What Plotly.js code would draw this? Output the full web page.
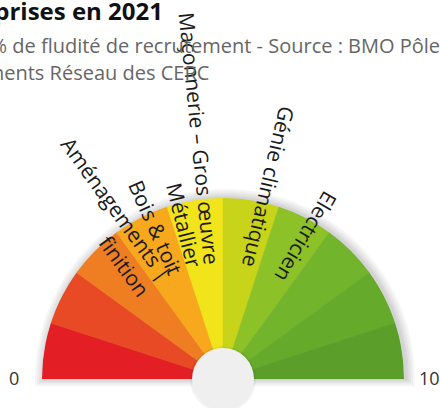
<!DOCTYPE html>
<html><head><meta charset="utf-8">
<script src="https://cdn.plot.ly/plotly-3.0.1.min.js"></script>
<style>html,body{margin:0;padding:0;background:#fff;overflow:hidden}#chart{width:440px;height:408px}</style>
</head><body><div id="chart"></div>
<script>
// ---------- DATA ----------
const scaleMin = 0;
const scaleMax = 10;
const bandStarts = [0, 1, 2, 3, 4, 5, 6, 7, 8, 9];
const bandEnds   = [1, 2, 3, 4, 5, 6, 7, 8, 9, 10];
const bandColors = ["#e31e24", "#e84a25", "#ef7e22", "#f7a81d", "#f1e41b",
                    "#c8d41a", "#8dc128", "#72b42b", "#66aa2b", "#5b9e2a"];
const tradeLabels = ["Aménagements |<br>finition", "Bois & toit", "Métallier",
                     "Maçonnerie – Gros œuvre", "Génie climatique", "Electricien"];
const tradeValues = [3.0, 3.67, 4.22, 4.68, 5.74, 6.69];
const endLabels = ["0", "10"];
const titleText = "Tensions de recrutement dans les entreprises en 2021";
const subtitleLine1 = "Indicateur en % de fludité de recrutement - Source : BMO Pôle emploi /";
const subtitleLine2 = "Traitements Réseau des CERC";

// ---------- GEOMETRY / STYLE ----------
const W = 440, H = 408;
const cx = 223, cy = 379, R = 181;
const fontFam = 'Open Sans';
const labelSize = 21;
const labelEndRadius = 113;

const cv = document.createElement('canvas');
const ctx = cv.getContext('2d');
function textW(t, size, weight) {
  ctx.font = (weight || 'normal') + ' ' + size + 'px "' + fontFam + '"';
  return ctx.measureText(t).width;
}
const toDeg = v => (v - scaleMin) / (scaleMax - scaleMin) * 180;
const px2x = p => p / W;
const px2y = p => 1 - p / H;

const gauge = {
  type: 'barpolar',
  theta: bandStarts.map((s, i) => toDeg((s + bandEnds[i]) / 2)),
  width: bandStarts.map((s, i) => toDeg(bandEnds[i]) - toDeg(s)),
  r: bandStarts.map(() => 1),
  marker: { color: bandColors, line: { color: bandColors, width: 0.6 } },
  hoverinfo: 'skip',
  showlegend: false
};

const annotations = [];
tradeLabels.forEach((lab, i) => {
  const lines = lab.split('<br>');
  const w = Math.max(...lines.map(l => textW(l, labelSize)));
  const aDeg = toDeg(tradeValues[i]);
  const a = aDeg * Math.PI / 180;
  const d = labelEndRadius + w / 2 + 2;
  const x = cx - d * Math.cos(a), y = cy - d * Math.sin(a);
  annotations.push({
    text: lab, x: px2x(x), y: px2y(y), xref: 'paper', yref: 'paper',
    showarrow: false, textangle: aDeg, xanchor: 'center', yanchor: 'middle',
    align: 'right', font: { family: fontFam, size: labelSize, color: '#1a1a1a' }
  });
});
annotations.push({ text: endLabels[0], x: px2x(21), y: px2y(378), xref: 'paper', yref: 'paper',
  showarrow: false, xanchor: 'right', yanchor: 'middle', font: { family: fontFam, size: 18, color: '#333' } });
annotations.push({ text: endLabels[1], x: px2x(417), y: px2y(378), xref: 'paper', yref: 'paper',
  showarrow: false, xanchor: 'left', yanchor: 'middle', font: { family: fontFam, size: 18, color: '#333' } });

// subtitle lines aligned so the visible parts land where the reference shows them
const subSize = 20;
const s1x = 10 - textW(subtitleLine1.split('% ')[0] + '% ', subSize);
const s2x = 48 - textW('Traitements ', subSize);
annotations.push({ text: subtitleLine1, x: px2x(s1x), y: px2y(45), xref: 'paper', yref: 'paper',
  showarrow: false, xanchor: 'left', yanchor: 'middle', font: { family: fontFam, size: subSize, color: '#666' } });
annotations.push({ text: subtitleLine2, x: px2x(s2x), y: px2y(72), xref: 'paper', yref: 'paper',
  showarrow: false, xanchor: 'left', yanchor: 'middle', font: { family: fontFam, size: subSize, color: '#666' } });

// soft drop shadow around the half disc (decoration)
function halfDiscPath(rad, dx, dy, drop) {
  const pts = [];
  for (let k = 0; k <= 60; k++) {
    const t = Math.PI * k / 60;
    pts.push([cx + dx - rad * Math.cos(t), cy + dy - rad * Math.sin(t)]);
  }
  pts.push([cx + dx + rad, cy + drop]);
  pts.push([cx + dx - rad, cy + drop]);
  return 'M' + pts.map(p => px2x(p[0]).toFixed(5) + ',' + px2y(p[1]).toFixed(5)).join('L') + 'Z';
}
const shapes = [];
[9, 7, 5, 3, 1.5].forEach(o => {
  shapes.push({ type: 'path', xref: 'paper', yref: 'paper', layer: 'below',
    path: halfDiscPath(R + o, 2, 0, o * 0.8), fillcolor: 'rgba(0,0,0,0.035)', line: { width: 0 } });
});
shapes.push({ type: 'circle', xref: 'paper', yref: 'paper', layer: 'above',
  x0: px2x(cx - 33), x1: px2x(cx + 33), y0: px2y(cy + 33), y1: px2y(cy - 33),
  fillcolor: 'rgba(0,0,0,0.05)', line: { width: 0 } });
shapes.push({ type: 'circle', xref: 'paper', yref: 'paper', layer: 'above',
  x0: px2x(cx - 31), x1: px2x(cx + 31), y0: px2y(cy + 31), y1: px2y(cy - 31),
  fillcolor: '#efefef', line: { width: 0 } });

const layout = {
  width: W, height: H,
  margin: { l: 0, r: 0, t: 0, b: 0 },
  paper_bgcolor: '#fff',
  title: { text: titleText, x: px2x(163), xref: 'container', xanchor: 'right',
           y: 1 - 12 / H, yref: 'container', yanchor: 'middle',
           font: { family: fontFam, size: 24, color: '#111', weight: 'bold' } },
  polar: {
    domain: { x: [px2x(cx - R), px2x(cx + R)], y: [(H - cy) / H, (H - cy + R) / H] },
    sector: [0, 180],
    bgcolor: 'rgba(0,0,0,0)',
    angularaxis: { rotation: 180, direction: 'clockwise', visible: false },
    radialaxis: { range: [0, 1], visible: false }
  },
  annotations: annotations,
  shapes: shapes,
  showlegend: false
};

Plotly.newPlot('chart', [gauge], layout, { displayModeBar: false, staticPlot: true });
</script></body></html>
